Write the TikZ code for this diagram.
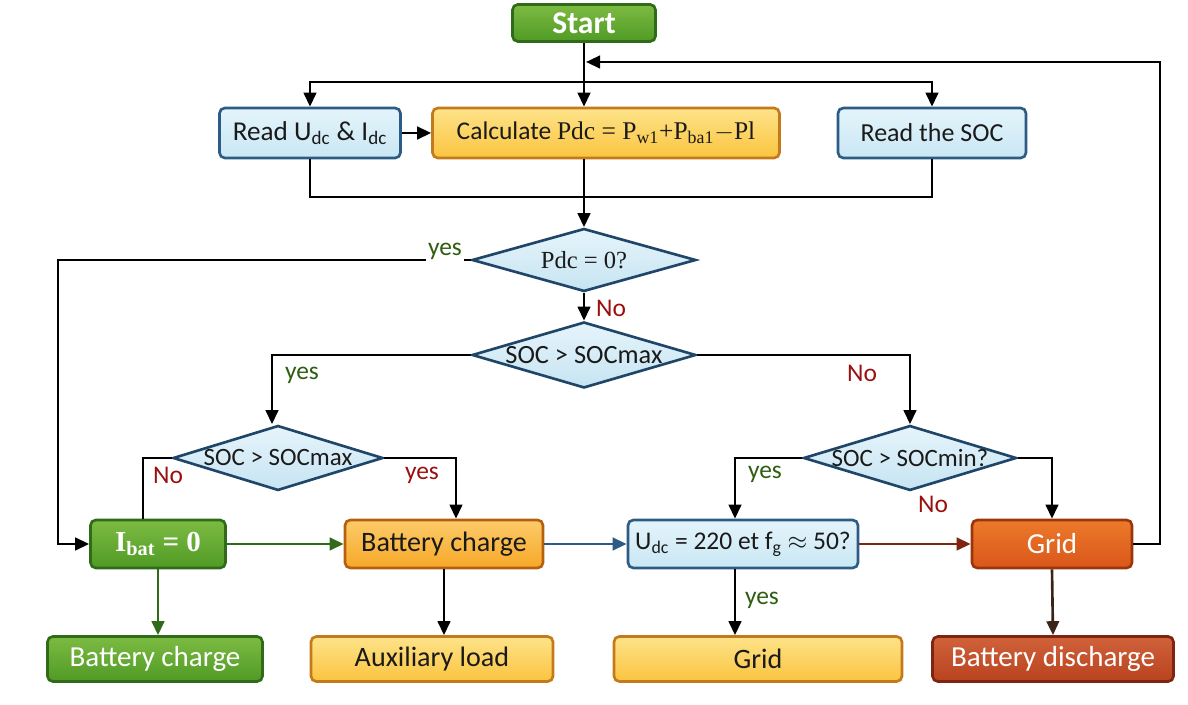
\documentclass[tikz,border=0pt]{standalone}
\usepackage{fontspec}
\setmainfont{Carlito}
\newfontfamily\serifm{Liberation Serif}
\usetikzlibrary{arrows.meta,shapes.geometric}

\definecolor{greentop}{HTML}{7DBB42}
\definecolor{greenbot}{HTML}{4F9A25}
\definecolor{greenline}{HTML}{2F6B18}
\definecolor{bluetop}{HTML}{E4F4FB}
\definecolor{bluebot}{HTML}{C9E7F4}
\definecolor{blueline}{HTML}{2C5B85}
\definecolor{yellowtop}{HTML}{FDE38A}
\definecolor{yellowbot}{HTML}{FBC43F}
\definecolor{yellowline}{HTML}{C37A1A}
\definecolor{orangetop}{HTML}{FCCB6A}
\definecolor{orangebot}{HTML}{F7A828}
\definecolor{orangeline}{HTML}{B5600F}
\definecolor{gridtop}{HTML}{EC7A2A}
\definecolor{gridbot}{HTML}{D9561A}
\definecolor{gridline}{HTML}{9B350C}
\definecolor{dischtop}{HTML}{D0623A}
\definecolor{dischbot}{HTML}{B8431F}
\definecolor{dischline}{HTML}{7E2410}
\definecolor{dectop}{HTML}{E6F4FB}
\definecolor{decbot}{HTML}{C6E4F2}
\definecolor{decline}{HTML}{1F4668}
\definecolor{yesgreen}{HTML}{2E5E10}
\definecolor{nored}{HTML}{9A0F0F}
\definecolor{txt}{HTML}{1A1A1A}
\definecolor{darkarrow}{HTML}{3A2418}

\tikzset{
  box/.style={rounded corners=3pt, line width=1.5pt, minimum height=1cm,
    inner sep=2pt, text=txt, font=\fontsize{16}{19}\selectfont},
  greenbox/.style={box, draw=greenline, top color=greentop, bottom color=greenbot, text=white},
  bluebox/.style={box, draw=blueline, top color=bluetop, bottom color=bluebot},
  yellowbox/.style={box, draw=yellowline, top color=yellowtop, bottom color=yellowbot},
  orangebox/.style={box, draw=orangeline, top color=orangetop, bottom color=orangebot},
  gridbox/.style={box, draw=gridline, top color=gridtop, bottom color=gridbot, text=white},
  dischbox/.style={box, draw=dischline, top color=dischtop, bottom color=dischbot, text=white},
  decision/.style={diamond, draw=decline, line width=1.5pt, top color=dectop,
    bottom color=decbot, inner sep=0pt, aspect=3.4},
  dectext/.style={text=txt, font=\fontsize{15}{17}\selectfont},
  flow/.style={line width=1.5pt, -{Triangle[length=2.8mm,width=2.5mm]}},
  link/.style={line width=1.5pt},
  yeslbl/.style={text=yesgreen, font=\fontsize{14.5}{17}\selectfont, inner sep=1pt},
  nolbl/.style={text=nored, font=\fontsize{14.5}{17}\selectfont, inner sep=1pt},
}

\begin{document}
\begin{tikzpicture}[x=0.02cm, y=-0.02cm]
\useasboundingbox (0,0) rectangle (1188,705);

  % Top row
  \node[greenbox, minimum width=2.86cm, minimum height=0.74cm,
    font=\fontsize{18}{20}\selectfont\bfseries] (start) at (584,23) {Start};
  \node[bluebox, minimum width=3.62cm, font=\fontsize{15.5}{18}\selectfont] (readu) at (310,133)
    {Read U\textsubscript{dc} \& I\textsubscript{dc}};
  \node[yellowbox, minimum width=6.94cm, font=\fontsize{14.5}{17}\selectfont] (calc) at (606,133)
    {Calculate {\serifm Pdc = P\textsubscript{w1}+P\textsubscript{ba1}$-$Pl}};
  \node[bluebox, minimum width=3.76cm, font=\fontsize{14.8}{17}\selectfont] (readsoc) at (932,133) {Read the SOC};

  % Decisions
  \node[decision, minimum width=4.48cm, minimum height=1.26cm] (d1) at (584,260) {};
  \node[dectext, font=\fontsize{14}{16}\selectfont] (d1t) at (d1) {\serifm Pdc = 0?};
  \node[decision, minimum width=4.48cm, minimum height=1.32cm] (d2) at (584,355) {};
  \node[dectext] (d2t) at (d2) {SOC > SOCmax};
  \node[decision, minimum width=4.2cm, minimum height=1.3cm] (d3) at (278,458) {};
  \node[dectext, font=\fontsize{14.2}{16}\selectfont] (d3t) at (d3) {SOC > SOCmax};
  \node[decision, minimum width=4.26cm, minimum height=1.3cm] (d4) at (910,458) {};
  \node[dectext, font=\fontsize{14.2}{16}\selectfont] (d4t) at (d4) {SOC > SOCmin?};

  % Middle row
  \node[greenbox, minimum width=2.7cm, minimum height=0.96cm,
    font=\fontsize{16.5}{19}\selectfont\bfseries] (ibat) at (158,544)
    {\serifm I\textsubscript{bat} = 0};
  \node[orangebox, minimum width=3.96cm, minimum height=0.96cm] (bc) at (444,544) {Battery charge};
  \node[bluebox, minimum width=4.6cm, minimum height=0.96cm, font=\fontsize{14.5}{17}\selectfont] (udc) at (743,544)
    {U\textsubscript{dc} = 220 et f\textsubscript{g} $\approx$ 50?};
  \node[gridbox, minimum width=3.2cm, minimum height=0.96cm, font=\fontsize{16.5}{19}\selectfont] (grid1) at (1052,544) {Grid};

  % Bottom row
  \node[greenbox, minimum width=4.3cm, minimum height=0.9cm, font=\fontsize{16.5}{19}\selectfont] (bcg) at (155,659) {Battery charge};
  \node[yellowbox, minimum width=4.84cm, minimum height=0.9cm] (aux) at (432,659) {Auxiliary load};
  \node[yellowbox, minimum width=5.76cm, minimum height=0.9cm] (gridy) at (758,659) {Grid};
  \node[dischbox, minimum width=4.82cm, minimum height=0.9cm, font=\fontsize{16.5}{19}\selectfont] (disch) at (1053,659) {Battery discharge};

  % Coordinates
  \coordinate (split) at (584,82);
  \coordinate (merge) at (584,197);
  \coordinate (ret) at (1160,62);
  \coordinate (back) at (586,62);
  \coordinate (yesleft) at (58,260);

  % Connectors
  \draw[flow] (start.south) -- (start.south |- calc.north);
  \draw[flow] (split) -| (readu.north);
  \draw[flow] (split) -| (readsoc.north);
  \draw[flow] (grid1.east) -| (ret) -- (back);
  \draw[flow] (readu) -- (calc);
  \draw[link] (readu.south) |- (merge) -| (readsoc.south);
  \draw[flow] (start.south |- calc.south) -- (d1.north);
  \draw[flow] (d1.west) -- (yesleft) |- (ibat.west);
  \draw[flow] (d1.south) -- (d2.north);
  \draw[flow] (d2.west) -| ([xshift=-0.12cm]d3.north);
  \draw[flow] (d2.east) -| (d4.north);
  \draw[link] (d3.west) -| ([xshift=-0.3cm]ibat.north);
  \draw[flow] (d3.east) -| ([xshift=0.24cm]bc.north);
  \draw[flow] (d4.west) -| ([xshift=-0.16cm]udc.north);
  \draw[flow] (d4.east) -| (grid1.north);
  \draw[flow, draw=greenline] (ibat) -- (bc);
  \draw[flow, draw=blueline] (bc) -- (udc);
  \draw[flow, draw=dischline] (udc) -- (grid1);
  \draw[flow, draw=greenline] (ibat.south) -- (ibat.south |- bcg.north);
  \draw[flow] (bc.south) -- (bc.south |- aux.north);
  \draw[flow] ([xshift=-0.16cm]udc.south) -- ([xshift=-0.16cm]udc.south |- gridy.north);
  \draw[flow, draw=darkarrow] (grid1.south) -- (disch.north);

  % Labels
  \node[yeslbl, fill=white] (l1) at (445,251) {yes};
  \node[nolbl] (l2) at (611,308) {No};
  \node[yeslbl] (l3) at (302,375) {yes};
  \node[nolbl] (l4) at (862,373) {No};
  \node[nolbl] (l5) at (168,475) {No};
  \node[nolbl] (l6) at (422,475) {yes};
  \node[yeslbl] (l7) at (765,474) {yes};
  \node[nolbl] (l8) at (933,504) {No};
  \node[yeslbl] (l9) at (762,600) {yes};

\end{tikzpicture}
\end{document}
